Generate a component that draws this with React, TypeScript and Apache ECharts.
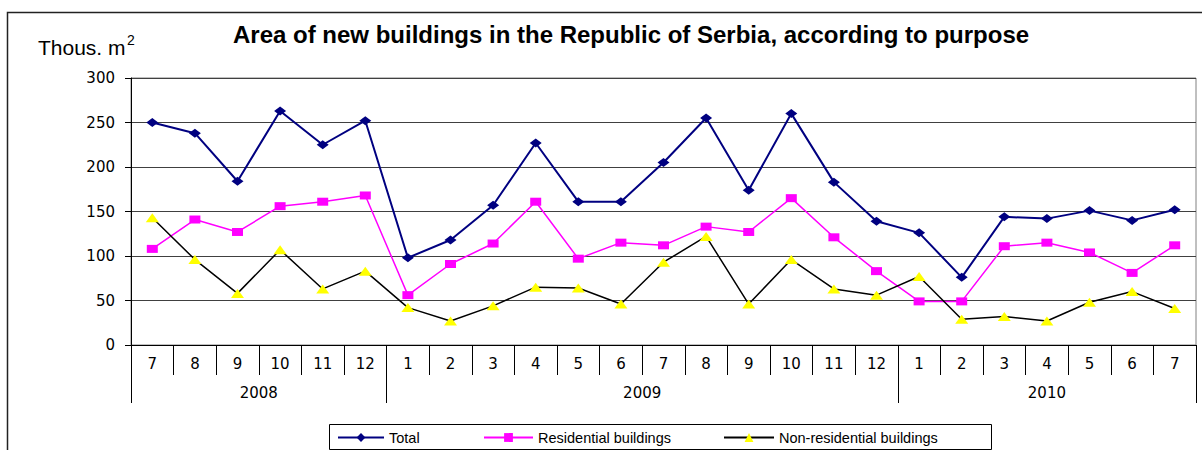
import React, { useEffect, useRef } from 'react';
import * as echarts from 'echarts';

const months = ['7', '8', '9', '10', '11', '12', '1', '2', '3', '4', '5', '6', '7', '8', '9', '10', '11', '12', '1', '2', '3', '4', '5', '6', '7'];
const years = ['2008', '2009', '2010'];
const yearMonthCounts = [6, 12, 7];
const total = [250, 238, 184, 263, 225, 252, 98, 118, 157, 227, 161, 161, 205, 255, 174, 260, 183, 139, 126, 76, 144, 142, 151, 140, 152];
const residential = [108, 141, 127, 156, 161, 168, 56, 91, 114, 161, 97, 115, 112, 133, 127, 165, 121, 83, 49, 49, 111, 115, 104, 81, 112];
const nonResidential = [143, 96, 58, 107, 63, 83, 42, 27, 44, 65, 64, 46, 93, 122, 46, 96, 63, 56, 77, 29, 32, 27, 48, 60, 41];
const seriesNames = ['Total', 'Residential buildings', 'Non-residential buildings'];
const titleText = 'Area of new buildings in the Republic of Serbia, according to purpose';
const unitText = 'Thous. m';
const unitSup = '2';

export default function App() {
  const ref = useRef<HTMLDivElement>(null);
  useEffect(() => {
    const chart = echarts.init(ref.current!, null, { renderer: 'svg' });
    const boundaries = [0];
    yearMonthCounts.forEach((c) => boundaries.push(boundaries[boundaries.length - 1] + c));
    const centers = years.map((_, i) => (boundaries[i] + boundaries[i + 1]) / 2);
    const axisFont = 'DejaVu Sans';
    const textFont = 'Liberation Sans, Arial, sans-serif';
    const legendBase = {
      orient: 'horizontal',
      padding: 0,
      itemHeight: 11,
      selectedMode: false,
      textStyle: { fontFamily: textFont, fontSize: 14.5, color: '#000' },
      top: 430,
    };
    chart.setOption({
      animation: false,
      backgroundColor: '#fff',
      title: {
        text: titleText,
        left: 233,
        top: 22,
        padding: 0,
        textStyle: { fontFamily: textFont, fontSize: 24, fontWeight: 'bold', color: '#000', lineHeight: 24 },
      },
      legend: [
        { ...legendBase, data: [seriesNames[0]], left: 337, itemWidth: 46 },
        { ...legendBase, data: [seriesNames[1]], left: 483, itemWidth: 49 },
        { ...legendBase, data: [seriesNames[2]], left: 723, itemWidth: 50 },
      ],
      grid: {
        left: 131,
        top: 78,
        right: 6,
        bottom: 105,
        show: true,
        borderColor: '#808080',
        borderWidth: 1,
        backgroundColor: 'transparent',
      },
      xAxis: [
        {
          type: 'category',
          data: months,
          boundaryGap: true,
          axisLine: { show: true, lineStyle: { color: '#000', width: 1 } },
          axisTick: { show: true, interval: 0, length: 30, alignWithLabel: false, lineStyle: { color: '#000' } },
          axisLabel: { interval: 0, margin: 11, fontFamily: axisFont, fontSize: 15, color: '#000' },
          splitLine: { show: false },
        },
        {
          type: 'value',
          min: 0,
          max: boundaries[boundaries.length - 1],
          position: 'bottom',
          axisLine: { show: false },
          axisTick: { show: true, length: 58, customValues: boundaries, lineStyle: { color: '#000' } },
          axisLabel: {
            margin: 40,
            customValues: centers,
            fontFamily: axisFont,
            fontSize: 15,
            color: '#000',
            formatter: (v: number) => {
              const i = centers.indexOf(v);
              return i >= 0 ? years[i] : '';
            },
          },
          splitLine: { show: false },
        },
      ],
      yAxis: {
        type: 'value',
        min: 0,
        max: 300,
        interval: 50,
        axisLine: { show: true, lineStyle: { color: '#000', width: 1 } },
        axisTick: { show: true, length: 6, lineStyle: { color: '#000' } },
        axisLabel: { margin: 16, fontFamily: axisFont, fontSize: 15, color: '#000' },
        splitLine: { show: true, lineStyle: { color: '#404040', width: 1 } },
      },
      series: [
        {
          name: seriesNames[0],
          type: 'line',
          data: total,
          symbol: 'diamond',
          symbolSize: [12, 9],
          lineStyle: { color: '#000080', width: 2 },
          itemStyle: { color: '#000080' },
        },
        {
          name: seriesNames[1],
          type: 'line',
          data: residential,
          symbol: 'rect',
          symbolSize: [11, 8],
          lineStyle: { color: '#FF00FF', width: 1.5 },
          itemStyle: { color: '#FF00FF' },
        },
        {
          name: seriesNames[2],
          type: 'line',
          data: nonResidential,
          symbol: 'triangle',
          symbolSize: [13, 9],
          lineStyle: { color: '#000', width: 1.5 },
          itemStyle: { color: '#FFFF00' },
        },
      ],
      graphic: [
        {
          type: 'rect',
          silent: true,
          shape: { x: 7.5, y: 12.5, width: 1300, height: 500 },
          style: { fill: 'none', stroke: '#222', lineWidth: 1.5 },
        },
        {
          type: 'rect',
          silent: true,
          shape: { x: 329.5, y: 424.5, width: 662, height: 25 },
          style: { fill: 'none', stroke: '#000', lineWidth: 1 },
        },
        {
          type: 'text',
          silent: true,
          style: { x: 38, y: 47, text: unitText, font: '21px Liberation Sans', fill: '#000', verticalAlign: 'middle' },
        },
        {
          type: 'text',
          silent: true,
          style: { x: 127, y: 40, text: unitSup, font: '14px Liberation Sans', fill: '#000', verticalAlign: 'middle' },
        },
      ],
    });
    return () => chart.dispose();
  }, []);
  return <div ref={ref} style={{ position: 'fixed', left: 0, top: 0, width: 1202, height: 450 }} />;
}
